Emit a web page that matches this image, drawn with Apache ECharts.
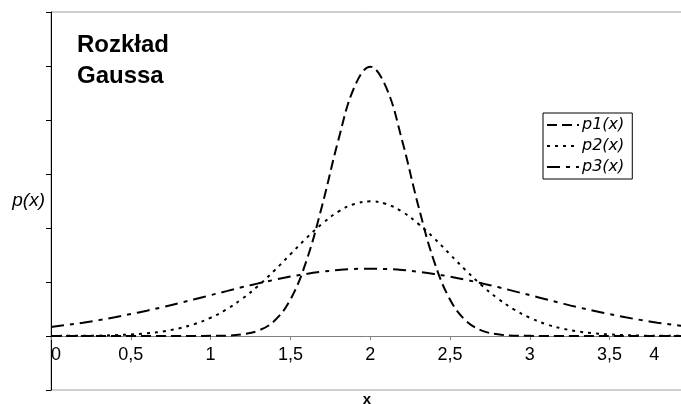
<!DOCTYPE html>
<html>
<head>
<meta charset="utf-8">
<script src="https://cdn.jsdelivr.net/npm/echarts@6/dist/echarts.min.js"></script>
<style>html,body{margin:0;padding:0;background:#fff}#c{width:681px;height:404px}</style>
</head>
<body>
<div id="c"></div>
<script>
const xValues = [0,0.1,0.2,0.3,0.4,0.5,0.6,0.7,0.8,0.9,1,1.1,1.2,1.3,1.4,1.5,1.6,1.7,1.8,1.9,2,
  2.1,2.2,2.3,2.4,2.5,2.6,2.7,2.8,2.9,3,3.1,3.2,3.3,3.4,3.5,3.6,3.7,3.8,3.9,4];
const p1 = [0,0,0,0,0,0,0,0,0,0,0.001,0.002,0.010,0.032,0.090,0.216,0.444,0.777,1.159,1.473,1.596,
  1.473,1.159,0.777,0.444,0.216,0.090,0.032,0.010,0.002,0.001,0,0,0,0,0,0,0,0,0,0];
const p2 = [0.000,0.001,0.001,0.002,0.005,0.009,0.016,0.027,0.045,0.071,0.108,0.158,0.222,0.299,0.388,0.484,0.580,0.666,0.737,0.782,0.798,
  0.782,0.737,0.666,0.580,0.484,0.388,0.299,0.222,0.158,0.108,0.071,0.045,0.027,0.016,0.009,0.005,0.002,0.001,0.001,0.000];
const p3 = [0.054,0.066,0.079,0.094,0.111,0.130,0.150,0.171,0.194,0.218,0.242,0.266,0.290,0.312,0.333,0.352,0.368,0.381,0.391,0.397,0.399,
  0.397,0.391,0.381,0.368,0.352,0.333,0.312,0.290,0.266,0.242,0.218,0.194,0.171,0.150,0.130,0.111,0.094,0.079,0.066,0.054];
const seriesNames = ['p1(x)','p2(x)','p3(x)'];
const xTickLabels = ['0','0,5','1','1,5','2','2,5','3','3,5','4'];
const titleText = 'Rozkład\nGaussa';

const pairs = arr => xValues.map((x,i) => [x, arr[i]]);
const dashes = [[10,5],[3,5],[13,6,4,6]];
const chart = echarts.init(document.getElementById('c'), null, {renderer:'canvas'});
chart.setOption({
  backgroundColor: '#fff',
  animation: false,
  title: {
    text: titleText, left: 77, top: 30, padding: 0,
    textStyle: {fontFamily: 'Liberation Sans', fontSize: 24, fontWeight: 'bold', color: '#000', lineHeight: 31}
  },
  legend: {
    orient: 'vertical', left: 543, top: 113,
    padding: [4, 8, 4, 3], itemGap: 5, itemWidth: 32, itemHeight: 14,
    borderColor: '#000', borderWidth: 1, backgroundColor: '#fff',
    itemStyle: {opacity: 0, borderWidth: 0, color: 'rgba(0,0,0,0)'},
    textStyle: {fontFamily: 'DejaVu Sans', fontStyle: 'italic', fontSize: 16, color: '#000', padding: [0,0,0,-2]},
    data: seriesNames
  },
  grid: {left: 51, right: -2, top: 12, bottom: 14, show: true, borderColor: '#a0a0a0', borderWidth: 1,
    containLabel: false, outerBoundsMode: 'none'},
  xAxis: {
    type: 'value', min: 0, max: 3.96, interval: 0.5,
    position: 'bottom', offset: -54,
    name: 'x', nameLocation: 'middle', nameGap: 56,
    nameTextStyle: {fontFamily: 'Liberation Sans', fontSize: 15, fontWeight: 'bold', color: '#000'},
    axisLine: {onZero: false, lineStyle: {color: '#808080', width: 1}},
    axisTick: {show: true, length: 4, lineStyle: {color: '#808080'}, customValues: [0,0.5,1,1.5,2,2.5,3,3.5]},
    axisLabel: {
      customValues: [0,0.5,1,1.5,2,2.5,3,3.5,3.78],
      formatter: v => xTickLabels[Math.min(8, Math.round(v*2))],
      alignMinLabel: 'left', margin: 10,
      fontFamily: 'Liberation Sans', fontSize: 18, color: '#000'
    },
    splitLine: {show: false}
  },
  yAxis: {
    type: 'value', min: -0.32, max: 1.92, interval: 0.32,
    name: 'p(x)', nameLocation: 'middle', nameRotate: 0, nameGap: 6,
    nameTextStyle: {fontFamily: 'Liberation Sans', fontSize: 19, fontStyle: 'italic', color: '#000', align: 'right', verticalAlign: 'middle'},
    axisLine: {show: true, onZero: false, lineStyle: {color: '#000', width: 1}},
    axisTick: {show: true, inside: false, length: 5, lineStyle: {color: '#000'}},
    axisLabel: {show: false},
    splitLine: {show: false}
  },
  series: [p1, p2, p3].map((arr, i) => ({
    name: seriesNames[i], type: 'line', data: pairs(arr),
    showSymbol: false, symbol: 'none', smooth: 0.4, clip: true,
    lineStyle: {color: '#000', width: 2, type: dashes[i]},
    itemStyle: {color: '#000'}
  }))
});
</script>
</body>
</html>
